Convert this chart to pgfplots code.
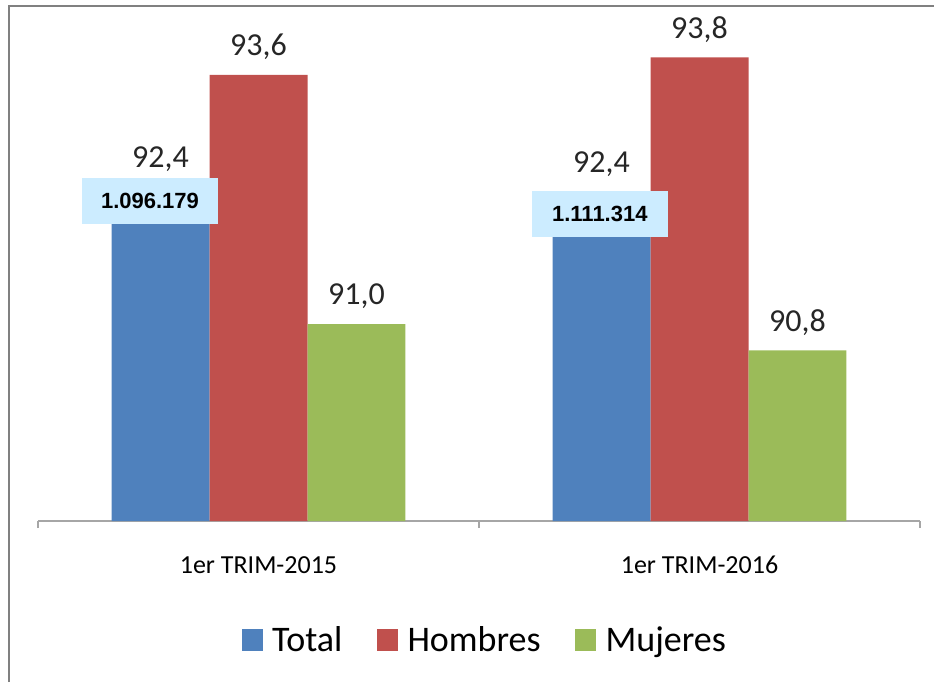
\documentclass[border=0pt]{standalone}
\usepackage{fontspec}
\setmainfont{Carlito}
\newfontfamily\boxfont{Liberation Sans}
\usepackage{pgfplots}
\pgfplotsset{compat=1.18}
\definecolor{cTotal}{RGB}{79,129,189}
\definecolor{cHom}{RGB}{192,80,77}
\definecolor{cMuj}{RGB}{155,187,89}
\definecolor{boxblue}{RGB}{204,236,255}
\definecolor{framegray}{RGB}{128,128,128}
\definecolor{axisgray}{RGB}{166,166,166}
\begin{document}
\begin{tikzpicture}
\useasboundingbox (0,0) rectangle (700.5pt,511.5pt);
\draw[framegray, line width=1.5pt] (6.75pt,0pt) -- (6.75pt,507pt) -- (700.5pt,507pt);
\begin{axis}[
  at={(28.5pt,120.75pt)}, anchor=south west,
  scale only axis, width=661.5pt, height=385.575pt,
  xmin=-0.5, xmax=1.5, ymin=89, ymax=94.3,
  clip=false,
  axis x line*=bottom, axis y line=none,
  x axis line style={axisgray, line width=1pt},
  xtick={0,1}, xticklabels={1er TRIM-2015,1er TRIM-2016},
  major tick length=0pt,
  minor xtick={-0.5,0.5,1.5}, minor tick length=5.25pt,
  tick align=outside,
  minor tick style={axisgray, line width=1pt},
  xticklabel style={font=\fontsize{19.5}{20}\selectfont, anchor=center, yshift=-33pt},
  ybar, bar width=0.2222,
  nodes near coords={\pgfmathprintnumber[fixed,fixed zerofill,precision=1,use comma,assume math mode=true]{\pgfplotspointmeta}},
  every node near coord/.append style={font=\fontsize{24}{24}\selectfont, anchor=center, yshift=21pt, black!85},
  legend style={at={(0.507,-0.2315)}, anchor=center, draw=none, fill=none, legend columns=3,
    font=\fontsize{27}{28}\selectfont,
    /tikz/every odd column/.append style={column sep=5pt},
    /tikz/every even column/.append style={column sep=24pt}},
  legend image code/.code={\fill[#1] (0pt,-7.9pt) rectangle (15.75pt,7.9pt);},
]
\addplot[fill=cTotal, draw=none, bar shift=-0.2222] coordinates {(0,92.44) (1,92.39)};
\addplot[fill=cHom, draw=none, bar shift=0] coordinates {(0,93.60) (1,93.78)};
\addplot[fill=cMuj, draw=none, bar shift=0.2222] coordinates {(0,91.03) (1,90.76)};
\legend{Total,Hombres,Mujeres}
\node[fill=boxblue, minimum width=102pt, minimum height=34.5pt, inner sep=0pt,
  font=\boxfont\bfseries\fontsize{16.5}{16.5}\selectfont] at (axis cs:-0.246,92.30) {1.096.179};
\node[fill=boxblue, minimum width=102pt, minimum height=34.5pt, inner sep=0pt,
  font=\boxfont\bfseries\fontsize{16.5}{16.5}\selectfont] at (axis cs:0.774,92.165) {1.111.314};
\end{axis}
\end{tikzpicture}
\end{document}
